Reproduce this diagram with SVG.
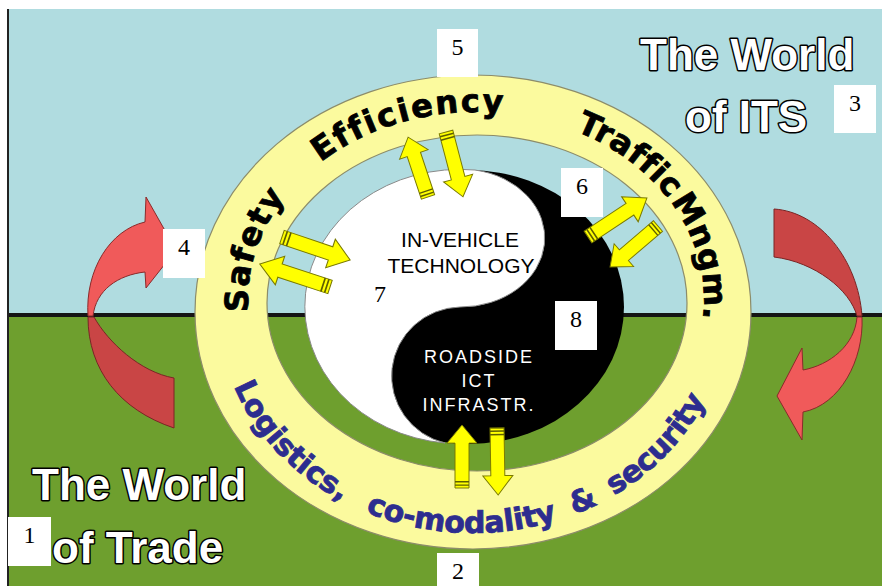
<svg xmlns="http://www.w3.org/2000/svg" width="882" height="586" viewBox="0 0 882 586">
<style>
.num{font-family:"Liberation Serif","Times New Roman",serif;font-size:24px;fill:#000;text-anchor:middle}
.box{fill:#fff}
.rt{font-family:"DejaVu Sans",sans-serif;font-weight:bold;font-size:32px;fill:#000;stroke:#000;stroke-width:0.8}
.rb{font-family:"DejaVu Sans",sans-serif;font-weight:bold;font-size:30px;fill:#2d2d8f;stroke:#2d2d8f;stroke-width:0.8}
.world{font-family:"Liberation Sans",Arial,sans-serif;font-weight:bold;font-size:44px;fill:#fff;stroke:#000;stroke-width:3;paint-order:stroke;stroke-linejoin:round}
.yyb{font-family:"Liberation Sans",Arial,sans-serif;font-size:21px;fill:#000;text-anchor:middle}
.yyw{font-family:"Liberation Sans",Arial,sans-serif;font-size:18px;fill:#fff;text-anchor:middle;letter-spacing:2px}
.redL{fill:#f05a5a;stroke:#8a2a2a;stroke-width:1}
.redD{fill:#c94545;stroke:#7a2525;stroke-width:1}
</style>
<defs>
<path id="pathTop" d="M476,488 A228,188 0 0 1 248,300 A228,188 0 0 1 476,112 A228,188 0 0 1 704,300 A228,188 0 0 1 476,488"/>
<path id="pathBot" d="M473,83 A255,225 0 0 0 218,308 A255,225 0 0 0 473,533 A255,225 0 0 0 728,308 A255,225 0 0 0 473,83"/>
<g id="ya">
<polygon points="0,-7 47,-7 47,-15 66,0 47,15 47,7 0,7" fill="#ffff00" stroke="#7a7a00" stroke-width="1"/>
<path d="M3,-7V7M6.5,-7V7" stroke="#5e5e00" stroke-width="1.5" fill="none"/>
</g>
</defs>

<g id="background">
<rect x="0" y="0" width="882" height="586" fill="#fff"/>
<rect x="8" y="9" width="874" height="306" fill="#b0dce0"/>
<rect x="8" y="315" width="874" height="271" fill="#6e9f2e"/>
<rect x="8" y="313" width="874" height="4" fill="#151515"/>
<rect x="7" y="9" width="2" height="577" fill="#222"/>
</g>

<g id="red-arrow-left">
<path class="redL" d="M88,316 C85,270 110,230 145,222 L146,197 L176,250 L146,288 L145,272 C118,275 96,290 93,316 Z"/>
<path class="redD" d="M88,317 C88,370 120,410 174,428 L174,378 C140,372 108,342 94,317 Z"/>
</g>
<g id="red-arrow-right">
<path class="redD" d="M774,209 C820,212 858,260 862,316 L857,316 C850,290 815,262 774,257 Z"/>
<path class="redL" d="M857,317 L862,317 C864,360 840,405 803,412 L802,440 L777,396 L802,348 L803,370 C830,365 855,345 857,317 Z"/>
</g>

<g id="ring">
<path fill="#fbfa9e" stroke="#8c8c6a" stroke-width="1.2" fill-rule="evenodd" d="M195,312 A278,237 0 1 1 751,312 A278,237 0 1 1 195,312 Z M267,303 A210,168 0 1 0 687,303 A210,168 0 1 0 267,303 Z"/>
</g>

<g id="yin-yang">
<ellipse cx="469" cy="307" rx="155" ry="137" fill="#000"/>
<path fill="#fff" stroke="#8a8a8a" stroke-width="1" d="M475,170 A155,137 0 0 0 445,443 A70,69 0 0 1 460,307 A84,69 0 0 0 475,170 Z"/>
</g>

<g id="connectors">
<use href="#ya" transform="translate(428,197) rotate(-108.4) scale(0.955,1)"/>
<use href="#ya" transform="translate(446,132) rotate(75.3) scale(1.015,1)"/>
<use href="#ya" transform="translate(588,237) rotate(-33.5) scale(1.07,1)"/>
<use href="#ya" transform="translate(658,226) rotate(139.5) scale(0.955,1)"/>
<use href="#ya" transform="translate(282,237) rotate(18.7) scale(1.09,1)"/>
<use href="#ya" transform="translate(330,287) rotate(-161.8) scale(1.12,1)"/>
<use href="#ya" transform="translate(462,488) rotate(-90) scale(0.955,1)"/>
<use href="#ya" transform="translate(497,428) rotate(89) scale(1.015,1)"/>
</g>

<g id="ring-labels">
<text class="rt" text-anchor="middle" letter-spacing="1.5"><textPath href="#pathTop" startOffset="378">Safety</textPath></text>
<text class="rt" text-anchor="middle" letter-spacing="2"><textPath href="#pathTop" startOffset="586">Efficiency</textPath></text>
<text class="rt" text-anchor="middle" letter-spacing="0.5" word-spacing="-9"><textPath href="#pathTop" startOffset="879">Traffic Mngm.</textPath></text>
<text class="rb" text-anchor="middle" letter-spacing="0"><textPath href="#pathBot" startOffset="538">Logistics,</textPath></text>
<text class="rb" text-anchor="middle" letter-spacing="-0.3" word-spacing="8"><textPath href="#pathBot" startOffset="840">co-modality &amp; security</textPath></text>
</g>

<g id="node-in-vehicle">
<text class="yyb" x="460" y="247">IN-VEHICLE</text>
<text class="yyb" x="461" y="273">TECHNOLOGY</text>
</g>
<g id="node-roadside">
<text class="yyw" x="479" y="363">ROADSIDE</text>
<text class="yyw" x="479" y="387">ICT</text>
<text class="yyw" x="479" y="411">INFRASTR.</text>
</g>

<g id="world-its">
<text class="world" x="640" y="70">The World</text>
<text class="world" x="685" y="132">of ITS</text>
</g>
<g id="world-trade">
<text class="world" x="32" y="500">The World</text>
<text class="world" x="52" y="563">of Trade</text>
</g>

<g id="box-1"><rect class="box" x="8" y="517" width="43" height="49"/><text class="num" x="29.5" y="543">1</text></g>
<g id="box-2"><rect class="box" x="437" y="553" width="42" height="34"/><text class="num" x="458" y="579">2</text></g>
<g id="box-3"><rect class="box" x="834" y="85" width="42" height="48"/><text class="num" x="855" y="111">3</text></g>
<g id="box-4"><rect class="box" x="163" y="229" width="42" height="49"/><text class="num" x="184" y="255">4</text></g>
<g id="box-5"><rect class="box" x="437" y="29" width="41" height="48"/><text class="num" x="457.5" y="55">5</text></g>
<g id="box-6"><rect class="box" x="561" y="168" width="42" height="49"/><text class="num" x="582" y="194">6</text></g>
<g id="box-7"><rect class="box" x="359" y="276" width="42" height="49"/><text class="num" x="380" y="302">7</text></g>
<g id="box-8"><rect class="box" x="555" y="301" width="42" height="49"/><text class="num" x="576" y="327">8</text></g>
</svg>
